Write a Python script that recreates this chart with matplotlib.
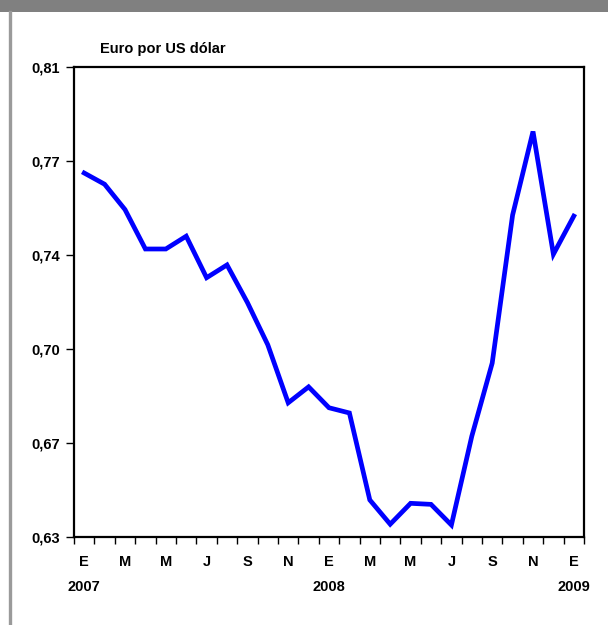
import matplotlib
matplotlib.use("Agg")
import matplotlib.pyplot as plt
from matplotlib.patches import Rectangle
from matplotlib.lines import Line2D

months = ["E", "F", "M", "A", "M", "J", "J", "A", "S", "O", "N", "D",
          "E", "F", "M", "A", "M", "J", "J", "A", "S", "O", "N", "D", "E"]
years = {0: "2007", 12: "2008", 24: "2009"}
values = [0.7694, 0.7651, 0.7554, 0.7403, 0.7403, 0.7452, 0.7293, 0.7342,
          0.7198, 0.7036, 0.6814, 0.6875, 0.6795, 0.6775, 0.6442, 0.6349,
          0.6429, 0.6425, 0.6346, 0.6686, 0.6966, 0.7533, 0.7853, 0.7383,
          0.7529]
ytick_vals = [0.63, 0.666, 0.702, 0.738, 0.774, 0.81]
ytick_labels = ["0,63", "0,67", "0,70", "0,74", "0,77", "0,81"]
title = "Euro por US dólar"

plt.rcParams['font.family'] = ['Liberation Sans', 'DejaVu Sans']

W, H = 608, 625
fig = plt.figure(figsize=(W / 100, H / 100), dpi=100)
fig.patch.set_facecolor("white")

# top gray band and left gray border
fig.patches.append(Rectangle((0, 1 - 12 / H), 1, 12 / H, transform=fig.transFigure,
                             facecolor="#808080", edgecolor="none"))
fig.lines.append(Line2D([9.5 / W, 9.5 / W], [0, 1 - 12 / H], transform=fig.transFigure,
                        color="#9a9a9a", linewidth=2.4))

ax = fig.add_axes([74 / W, 1 - 537 / H, (584 - 74) / W, (537 - 67) / H])
x = list(range(len(values)))
ax.plot(x, values, color="#0000ff", linewidth=3.4, solid_joinstyle="miter")

ax.set_xlim(-0.5, len(values) - 0.5)
ax.set_ylim(ytick_vals[0], ytick_vals[-1])

fs = 10.5
ax.set_yticks(ytick_vals)
ax.set_yticklabels(ytick_labels, fontsize=fs, fontweight="bold")

major = list(range(0, len(values), 2))
labels = [months[i] + ("\n" + years[i] if i in years else "\n") for i in major]
ax.set_xticks(major)
ax.set_xticklabels(labels, fontsize=fs, fontweight="bold", linespacing=1.95)
ax.set_xticks([i - 0.5 for i in range(len(values) + 1)], minor=True)
ax.tick_params(axis="x", which="major", length=0, pad=13)
ax.tick_params(axis="x", which="minor", length=5, width=1, direction="out")
ax.tick_params(axis="y", length=6, width=1, direction="out", pad=4)

for s in ax.spines.values():
    s.set_linewidth(1.6)
    s.set_color("black")

fig.text(100 / W, 1 - 49 / H, title, fontsize=fs, fontweight="bold",
         ha="left", va="center")

fig.savefig("out.png", dpi=100)
